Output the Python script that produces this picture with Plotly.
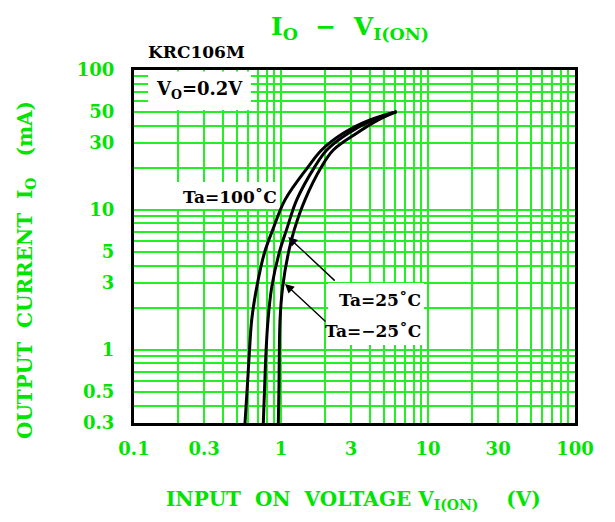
import numpy as np
import plotly.graph_objects as go

# ---- data ----
io_ma = [0.3, 0.547, 0.946, 1.64, 2.83, 4.9, 7.2, 11.8, 20.4, 26.8, 35.3, 44.0, 50.4]
vin_100 = [0.569, 0.590, 0.609, 0.632, 0.685, 0.770, 0.878, 1.065, 1.534, 1.89, 2.65, 4.03, 6.12]
vin_25 = [0.758, 0.774, 0.790, 0.816, 0.866, 0.970, 1.09, 1.279, 1.70, 2.05, 2.87, 4.25, 6.12]
vin_m25 = [0.959, 0.969, 0.974, 0.985, 1.027, 1.121, 1.23, 1.456, 1.89, 2.27, 3.27, 4.59, 6.12]

x_labels = [0.1, 0.3, 1, 3, 10, 30, 100]
y_labels = [0.3, 0.5, 1, 3, 5, 10, 30, 50, 100]

GREEN_TXT = "#00e400"
GREEN_GRID = "#22f022"
FONT = "DejaVu Serif"

W, H = 615, 522
OFF = 8  # page body margin
L, R, T, B = 134, 575, 70, 423


def px(x):
    return (x - L) / (R - L)


def py(y):
    return (B - y) / (B - T)


def fmt(v):
    return ("%g" % v)


x_grid = [round(k * 10.0 ** n, 6) for n in (-1, 0, 1) for k in range(1, 10)] + [100]
y_grid = [round(k * 10.0 ** n, 6) for n in (-1, 0, 1) for k in range(1, 10) if k * 10.0 ** n >= 0.29] + [100]
x_text = [fmt(v) if any(abs(v - l) < 1e-9 for l in x_labels) else "" for v in x_grid]
y_text = [fmt(v) if any(abs(v - l) < 1e-9 for l in y_labels) else "" for v in y_grid]

fig = go.Figure()
for xs in (vin_100, vin_25, vin_m25):
    fig.add_trace(go.Scatter(x=xs, y=io_ma, mode="lines",
                             line=dict(color="black", width=3, shape="spline", smoothing=1.0),
                             showlegend=False, hoverinfo="skip"))

tickfont = dict(family=FONT, size=18, color=GREEN_TXT, weight="bold")
fig.update_xaxes(type="log", range=[-1, 2], tickvals=x_grid, ticktext=x_text,
                 showgrid=True, gridcolor=GREEN_GRID, gridwidth=2,
                 showline=True, linecolor="black", linewidth=3, mirror=True,
                 ticks="outside", ticklen=7, tickcolor="rgba(0,0,0,0)",
                 tickfont=tickfont, zeroline=False)
fig.update_yaxes(type="log", range=[np.log10(0.3), 2], tickvals=y_grid, ticktext=y_text,
                 showgrid=True, gridcolor=GREEN_GRID, gridwidth=2,
                 showline=True, linecolor="black", linewidth=3, mirror=True,
                 ticks="outside", ticklen=13, tickcolor="rgba(0,0,0,0)",
                 tickfont=tickfont, zeroline=False)

# white label boxes covering the grid
boxes = [(148, 71.5, 251, 110), (177, 182, 279, 209), (328, 283, 424, 345)]
for x0, y0, x1, y1 in boxes:
    fig.add_shape(type="rect", xref="paper", yref="paper",
                  x0=px(x0), x1=px(x1), y0=py(y1), y1=py(y0),
                  fillcolor="white", line=dict(width=0), layer="above")


def text_ann(text, x, y, font, xanchor="center", **kw):
    d = dict(text=text, x=px(x), y=py(y), xref="paper", yref="paper", showarrow=False,
             xanchor=xanchor, yanchor="middle", font=font)
    d.update(kw)
    return d


bold_black = dict(family=FONT, size=17, color="black", weight="bold")
ann = [
    text_ann("I<sub>O</sub>\u00a0\u00a0\u2212\u00a0\u00a0V<sub>I(ON)</sub>", 350, 28,
             dict(family=FONT, size=25, color=GREEN_TXT, weight="bold")),
    text_ann("KRC106M", 146, 52, bold_black, xanchor="left"),
    text_ann("V<sub>O</sub>=0.2V", 199, 90, dict(family=FONT, size=18, color="black", weight="bold")),
    text_ann("Ta=100\u02daC", 230, 197, bold_black),
    text_ann("Ta=25\u02daC", 423, 300, bold_black, xanchor="right"),
    text_ann("Ta=\u221225\u02daC", 423, 331, bold_black, xanchor="right"),
    text_ann("INPUT\u00a0\u00a0ON\u00a0\u00a0VOLTAGE\u00a0V<sub>I(ON)</sub>\u00a0\u00a0\u00a0\u00a0(V)", 353, 500,
             dict(family=FONT, size=20, color=GREEN_TXT, weight="bold")),
    text_ann("OUTPUT\u00a0\u00a0CURRENT\u00a0\u00a0I<sub>O</sub>\u00a0\u00a0\u00a0(mA)", 26, 270,
             dict(family=FONT, size=20, color=GREEN_TXT, weight="bold"), textangle=-90),
]
# arrows
ann.append(dict(text="", x=np.log10(1.12), y=np.log10(6.4), xref="x", yref="y",
                ax=48, ay=45, showarrow=True, arrowhead=2, arrowsize=1.3, arrowwidth=1.4,
                arrowcolor="black"))
ann.append(dict(text="", x=np.log10(1.065), y=np.log10(2.96), xref="x", yref="y",
                ax=42, ay=39, showarrow=True, arrowhead=2, arrowsize=1.3, arrowwidth=1.4,
                arrowcolor="black"))

FW, FH = W - OFF, H - OFF
fig.update_layout(width=FW, height=FH,
                  margin=dict(l=L - OFF, r=FW - (R - OFF), t=T - OFF, b=FH - (B - OFF)),
                  paper_bgcolor="white", plot_bgcolor="white", annotations=ann)

fig.write_html("out.html")
